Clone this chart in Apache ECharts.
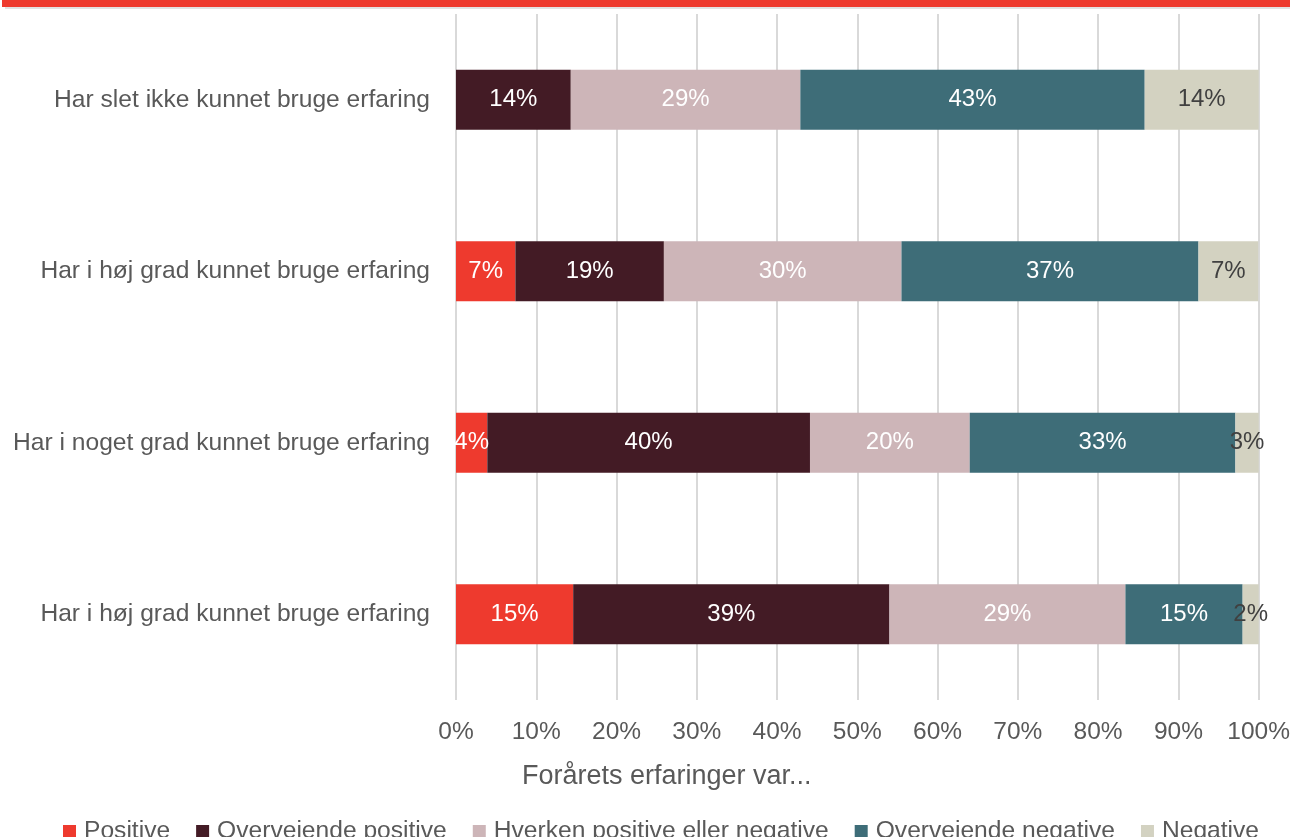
<!DOCTYPE html>
<html>
<head>
<meta charset="utf-8">
<script src="https://cdn.jsdelivr.net/npm/echarts@6/dist/echarts.min.js"></script>
<style>
  html, body { margin: 0; padding: 0; background: #fff; }
  #chart { width: 1293px; height: 837px; }
</style>
</head>
<body>
<div id="chart"></div>
<script>
// categories, bottom row first (ECharts draws the first category at the bottom)
const categories = [
    'Har i høj grad kunnet bruge erfaring',
    'Har i noget grad kunnet bruge erfaring',
    'Har i høj grad kunnet bruge erfaring',
    'Har slet ikke kunnet bruge erfaring'
];
const seriesNames = ['Positive', 'Overvejende positive', 'Hverken positive eller negative', 'Overvejende negative', 'Negative'];

const positive = [14.6, 3.9, 7.4, 0];
const mostlyPositive = [39.4, 40.2, 18.5, 14.3];
const neither = [29.4, 19.9, 29.6, 28.6];
const mostlyNegative = [14.6, 33.1, 37.0, 42.9];
const negative = [2.0, 2.9, 7.45, 14.2];

const xTicks = [0, 10, 20, 30, 40, 50, 60, 70, 80, 90, 100];

const colors = ['#ee3a2e', '#431b25', '#cdb5b8', '#3e6d78', '#d3d2c1'];
const labelColors = ['#ffffff', '#ffffff', '#ffffff', '#ffffff', '#404040'];
const font = '"Liberation Sans", Arial, sans-serif';

let chart = echarts.init(document.getElementById('chart'));

let values = [positive, mostlyPositive, neither, mostlyNegative, negative];

let series = seriesNames.map((name, i) => {
    return {
        name: name,
        type: 'bar',
        stack: 'total',
        barWidth: '35%',
        itemStyle: { color: colors[i] },
        label: {
            show: true,
            position: 'inside',
            color: labelColors[i],
            fontFamily: font,
            fontSize: 24,
            formatter: p => p.value > 0 ? Math.round(p.value) + '%' : ''
        },
        data: values[i]
    };
});

let option = {
    animation: false,
    textStyle: { fontFamily: font },
    grid: { left: 456, right: 33, top: 14, bottom: 137, containLabel: false },
    xAxis: {
        type: 'value',
        min: 0,
        max: 100,
        interval: 10,
        axisLine: { show: false },
        axisTick: { show: false },
        splitLine: { lineStyle: { color: '#d9d9d9', width: 2 } },
        axisLabel: {
            color: '#595959',
            fontSize: 24.5,
            margin: 20,
            formatter: v => xTicks.includes(v) ? v + '%' : ''
        }
    },
    yAxis: {
        type: 'category',
        data: categories,
        axisLine: { show: false },
        axisTick: { show: false },
        axisLabel: { color: '#595959', fontSize: 24.6, margin: 26 }
    },
    legend: {
        left: 58,
        top: 814,
        itemWidth: 13,
        itemHeight: 13,
        itemGap: 26,
        icon: 'rect',
        textStyle: { color: '#595959', fontSize: 24.6, fontFamily: font, padding: [0, 0, 0, 3] },
        data: seriesNames
    },
    graphic: [
        { type: 'rect', left: 2, top: 0, shape: { width: 1288, height: 7 }, style: { fill: '#ee3a2e' } },
        { type: 'rect', left: 5, top: 7, shape: { width: 1285, height: 2 }, style: { fill: '#e2e2e2' } },
        {
            type: 'text', left: 522, top: 763,
            style: { text: 'Forårets erfaringer var...', fill: '#595959', font: '27px ' + font }
        }
    ],
    series: series
};

chart.setOption(option);
</script>
</body>
</html>
